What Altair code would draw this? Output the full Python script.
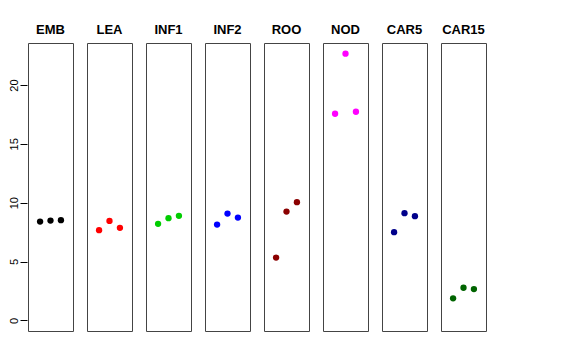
import altair as alt
import pandas as pd

tissues = ["EMB", "LEA", "INF1", "INF2", "ROO", "NOD", "CAR5", "CAR15"]
colors = ["#000000", "#FF0000", "#00CD00", "#0000FF", "#8B0000", "#FF00FF", "#00008B", "#006400"]
replicates = [1, 2, 3]
values = {
    "EMB": [8.39, 8.48, 8.51],
    "LEA": [7.66, 8.45, 7.86],
    "INF1": [8.20, 8.68, 8.88],
    "INF2": [8.14, 9.07, 8.73],
    "ROO": [5.33, 9.24, 10.04],
    "NOD": [17.56, 22.66, 17.73],
    "CAR5": [7.49, 9.11, 8.85],
    "CAR15": [1.87, 2.77, 2.66],
}

rows = []
for t in tissues:
    for r, v in zip(replicates, values[t]):
        rows.append({"tissue": t, "rep": r, "value": v})
df = pd.DataFrame(rows)

base = alt.Chart(df).mark_circle(size=40, opacity=1).encode(
    x=alt.X("rep:Q", scale=alt.Scale(domain=[-0.16, 4.16], nice=False, zero=False), axis=None),
    y=alt.Y("value:Q", scale=alt.Scale(domain=[-0.906, 23.57], nice=False, zero=False),
            axis=alt.Axis(values=[0, 5, 10, 15, 20], title=None, grid=False, domain=False,
                          tickSize=7, tickColor="#000000", labelAngle=270, labelAlign="center",
                          labelBaseline="bottom", labelPadding=1, labelFontSize=11,
                          labelColor="#000000", labelFont="Liberation Sans")),
    color=alt.Color("tissue:N", scale=alt.Scale(domain=tissues, range=colors), legend=None),
).properties(width=45, height=288)

chart = base.facet(
    column=alt.Column("tissue:N", sort=tissues,
                      header=alt.Header(title=None, labelFontSize=13, labelFontWeight="bold",
                                        labelFont="Liberation Sans", labelColor="#000000",
                                        labelPadding=5)),
    spacing=12,
).configure_view(stroke="#444444", strokeWidth=1).properties(
    padding={"left": 0, "top": 16, "right": 5, "bottom": 5}
)

chart.save("out.html", embed_options={"renderer": "svg", "actions": False})
